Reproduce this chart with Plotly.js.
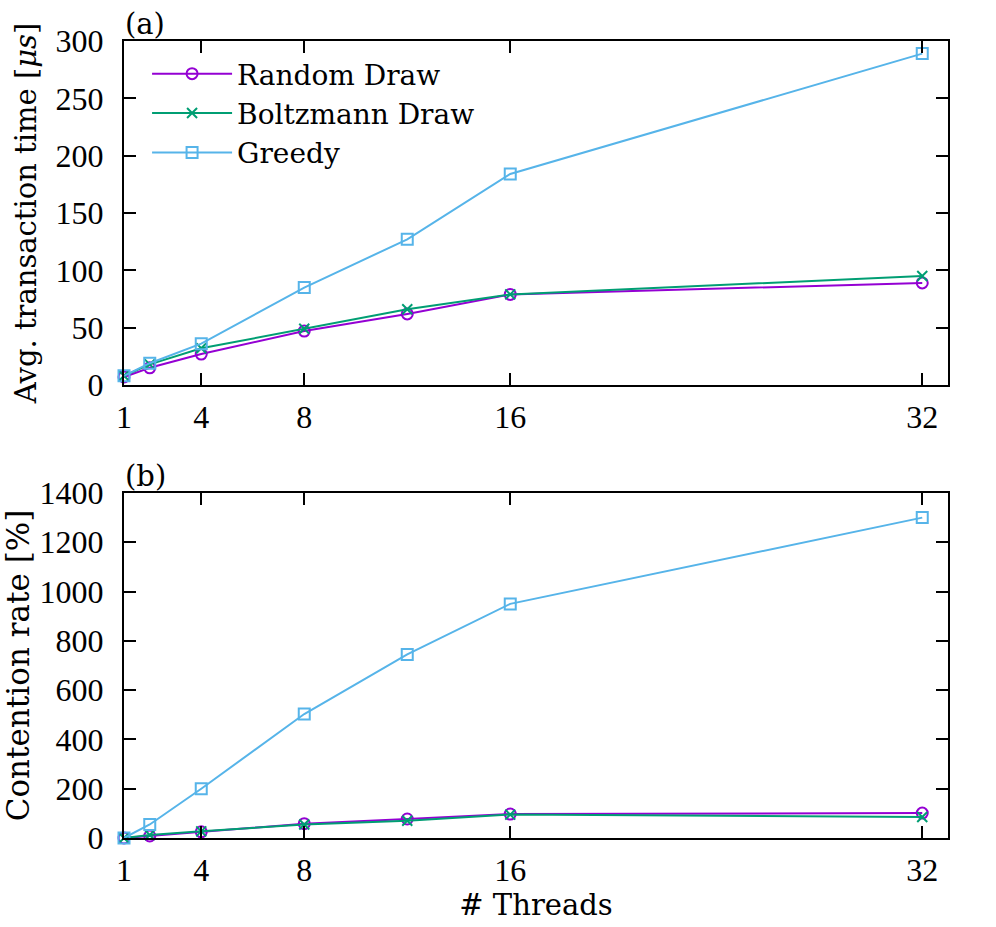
<!DOCTYPE html>
<html><head><meta charset="utf-8">
<script src="https://cdn.plot.ly/plotly-3.0.1.min.js"></script>
<style>body{margin:0;background:#fff}#c{width:996px;height:927px}</style>
</head><body><div id="c"></div>
<script>
const threads = [1, 2, 4, 8, 12, 16, 32];
const names = ["Random Draw", "Boltzmann Draw", "Greedy"];
const timeRandom = [7, 15, 27, 47, 62, 79, 89];
const timeBoltzmann = [8, 18, 32, 49, 66, 79, 95];
const timeGreedy = [8, 19, 36, 85, 127, 184, 289];
const contRandom = [0, 8, 25, 58, 77, 97, 101];
const contBoltzmann = [0, 12, 27, 55, 70, 95, 85];
const contGreedy = [0, 55, 200, 503, 745, 950, 1300];
const xTicks = [1, 4, 8, 16, 32];
const colors = ["#9400d3", "#009e73", "#56b4e9"];
const symbols = ["circle-open", "x-thin-open", "square-open"];

const tickFont = {family: "Liberation Serif, serif", size: 32, color: "#000"};
const textFont = {family: "DejaVu Serif, serif", size: 29, color: "#000"};
const legFont = {family: "DejaVu Serif, serif", size: 28, color: "#000"};
function tr(y, i, xa, ya, show) {
  return {x: threads, y: y, type: "scatter", mode: "lines+markers", name: names[i],
    xaxis: xa, yaxis: ya, showlegend: show, cliponaxis: false,
    line: {color: colors[i], width: 2},
    marker: {symbol: symbols[i], size: i === 1 ? 10 : 11, color: colors[i], line: {width: 2, color: colors[i]}}};
}
const data = [
  tr(timeRandom, 0, "x", "y", true), tr(timeBoltzmann, 1, "x", "y", true), tr(timeGreedy, 2, "x", "y", true),
  tr(contRandom, 0, "x2", "y2", false), tr(contBoltzmann, 1, "x2", "y2", false), tr(contGreedy, 2, "x2", "y2", false)
];
const axBase = {showline: true, mirror: "ticks", linecolor: "#000", linewidth: 2, ticks: "inside", ticklen: 12, tickwidth: 2, tickcolor: "#000", showgrid: false, zeroline: false, tickfont: tickFont};
const xBase = Object.assign({}, axBase, {range: [1, 33], tickvals: xTicks, domain: [0, 1], ticklabelstandoff: 3});
const yBase = Object.assign({}, axBase, {ticklabelstandoff: 12});
const layout = {
  width: 996, height: 927, paper_bgcolor: "#fff", plot_bgcolor: "#fff", font: textFont,
  margin: {l: 124, r: 48, t: 41, b: 89},
  xaxis: Object.assign({}, xBase, {anchor: "y"}),
  yaxis: Object.assign({}, yBase, {range: [0, 300], dtick: 50, domain: [0.5684, 1], anchor: "x",
    title: {text: "Avg. transaction time [<i>μs</i>]", font: textFont, standoff: 10}}),
  xaxis2: Object.assign({}, xBase, {anchor: "y2",
    title: {text: "# Threads", font: textFont, standoff: 0}}),
  yaxis2: Object.assign({}, yBase, {range: [0, 1400], dtick: 200, domain: [0, 0.4329], anchor: "x2",
    title: {text: "Contention rate [%]", font: {family: "DejaVu Serif, serif", size: 31, color: "#000"}, standoff: 8}}),
  legend: {x: 0.028, y: 0.99, xanchor: "left", yanchor: "top", bgcolor: "rgba(0,0,0,0)", font: legFont, tracegroupgap: 0, itemwidth: 80},
  annotations: [
    {text: "(a)", xref: "paper", yref: "paper", x: 0, y: 1, xanchor: "left", yanchor: "bottom", showarrow: false, font: textFont, yshift: -2, xshift: -1},
    {text: "(b)", xref: "paper", yref: "paper", x: 0, y: 0.4329, xanchor: "left", yanchor: "bottom", showarrow: false, font: textFont, yshift: -2, xshift: -1}
  ]
};
Plotly.newPlot("c", data, layout, {displayModeBar: false, staticPlot: true});
</script></body></html>
